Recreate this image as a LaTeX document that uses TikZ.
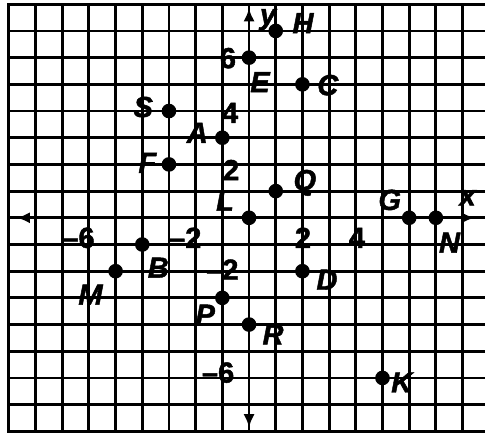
\documentclass[tikz,border=0pt]{standalone}
\usepackage{fontspec}
\setmainfont{Liberation Sans}[BoldFeatures={FakeBold=1.5}, BoldItalicFeatures={FakeBold=1.5}]
\usetikzlibrary{arrows.meta}
\begin{document}
\begin{tikzpicture}[x=0.5cm, y=0.5cm, line width=1.5pt,
	pt/.style={circle, fill, inner sep=0pt, minimum size=7.8pt},
	lbl/.style={font=\fontsize{15.5}{17}\selectfont\bfseries\itshape, inner sep=0pt},
	num/.style={font=\fontsize{15.5}{17}\selectfont\bfseries, inner sep=0pt}]
	\useasboundingbox (-9.33,-8.09) rectangle (8.84,8.16);
	%grid
	\foreach \x in {-9,...,8}{
		\draw[line cap=rect] (\x,-8)--(\x,8);
	}
	\foreach \y in {-8,...,8}{
		\draw[line cap=rect] (-9,\y)--(8.9,\y);
	}
	
	%axes
	\coordinate (xl) at (-8.7,0);
	\coordinate (xr) at (8.45,0);
	\coordinate (yb) at (0,-7.85);
	\coordinate (yt) at (0,7.85);
	\draw[{Latex[length=7pt,width=6pt]}-{Latex[length=7pt,width=6pt]}] (xl)--(xr);
	\draw[{Latex[length=7pt,width=6pt]}-{Latex[length=7pt,width=6pt]}] (yb)--(yt);
	\node[lbl] (xlbl) at (8.19,0.75){x};
	\node[lbl] (ylbl) at (0.71,7.42){y};
	
	%numbers
	\node[num] (xm6) at (-6.39,-0.75){\textendash6};
	\node[num] (xm2) at (-2.39,-0.75){\textendash2};
	\node[num] (xp2) at (2.02,-0.75){2};
	\node[num] (xp4) at (4.04,-0.75){4};
	\node[num] (yp6) at (-0.79,5.98){6};
	\node[num] (yp4) at (-0.71,3.93){4};
	\node[num] (yp2) at (-0.67,1.79){2};
	\node[num] (ym2) at (-1.0,-1.94){\textendash2};
	\node[num] (ym6) at (-1.16,-5.8){\textendash6};
	
	%points
	\node (S) at (-3, 4) [pt]{};
	\node (A) at (-1, 3) [pt]{};
	\node (F) at (-3, 2) [pt]{};
	\node (E) at (0, 6) [pt]{};
	\node (H) at (1, 7) [pt]{};
	\node (C) at (2, 5) [pt]{};
	\node (Q) at (1, 1) [pt]{};
	\node (L) at (0, 0) [pt]{};
	\node (G) at (6, 0) [pt]{};
	\node (N) at (7, 0) [pt]{};
	\node (B) at (-4, -1) [pt]{};
	\node (M) at (-5, -2) [pt]{};
	\node (P) at (-1, -3) [pt]{};
	\node (R) at (0, -4) [pt]{};
	\node (D) at (2, -2) [pt]{};
	\node (K) at (5, -6) [pt]{};
	
	%point names
	\node[lbl] (Slbl) at (-3.96,4.15){S};
	\node[lbl] (Albl) at (-1.94,3.18){A};
	\node[lbl] (Flbl) at (-3.81,2.06){F};
	\node[lbl] (Elbl) at (0.41,5.08){E};
	\node[lbl] (Hlbl) at (2.02,7.29){H};
	\node[lbl] (Clbl) at (2.95,4.97){C};
	\node[lbl] (Qlbl) at (2.09,1.31){Q};
	\node[lbl] (Llbl) at (-0.9,0.64){L};
	\node[lbl] (Glbl) at (5.27,0.67){G};
	\node[lbl] (Nlbl) at (7.51,-0.93){N};
	\node[lbl] (Blbl) at (-3.4,-1.87){B};
	\node[lbl] (Mlbl) at (-5.94,-2.88){M};
	\node[lbl] (Plbl) at (-1.64,-3.63){P};
	\node[lbl] (Rlbl) at (0.9,-4.37){R};
	\node[lbl] (Dlbl) at (2.92,-2.32){D};
	\node[lbl] (Klbl) at (5.72,-6.17){K};
\end{tikzpicture}
\end{document}
